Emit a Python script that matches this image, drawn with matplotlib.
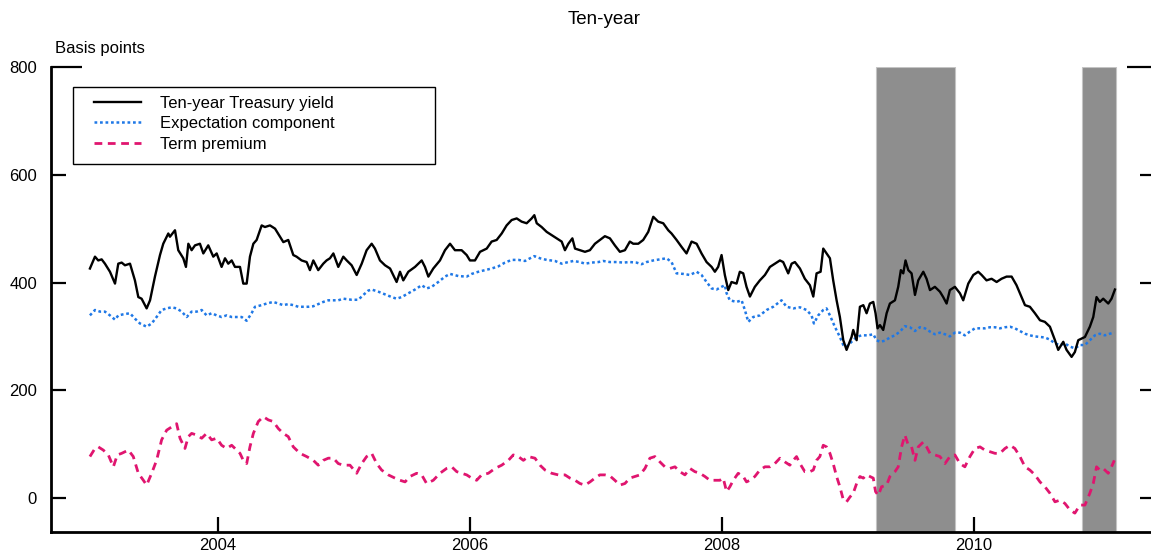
import numpy as np
import matplotlib

matplotlib.use("Agg")
import matplotlib.pyplot as plt
from matplotlib.patches import Rectangle


# Ten-year Treasury yield decomposition, basis points (date as decimal year, value)
TREASURY_YIELD = [
    (2002.984, 426), (2003.024, 448), (2003.050, 441), (2003.077, 443), (2003.103, 435),
    (2003.143, 420), (2003.183, 398), (2003.209, 435), (2003.236, 437), (2003.262, 432),
    (2003.302, 435), (2003.341, 404), (2003.368, 373), (2003.394, 370), (2003.434, 352),
    (2003.461, 367), (2003.500, 411), (2003.540, 451), (2003.566, 472), (2003.606, 491),
    (2003.619, 485), (2003.659, 497), (2003.685, 460), (2003.725, 445), (2003.746, 429),
    (2003.765, 472), (2003.791, 460), (2003.818, 469), (2003.857, 472), (2003.884, 454),
    (2003.923, 469), (2003.963, 448), (2003.990, 454), (2004.029, 429), (2004.056, 445),
    (2004.082, 435), (2004.109, 441), (2004.135, 429), (2004.175, 429), (2004.201, 398),
    (2004.228, 398), (2004.254, 448), (2004.281, 472), (2004.307, 479), (2004.347, 506),
    (2004.373, 503), (2004.413, 506), (2004.453, 500), (2004.492, 485), (2004.519, 475),
    (2004.558, 479), (2004.598, 451), (2004.624, 448), (2004.664, 441), (2004.704, 438),
    (2004.730, 423), (2004.757, 441), (2004.796, 423), (2004.836, 435), (2004.862, 441),
    (2004.889, 445), (2004.916, 454), (2004.955, 429), (2004.995, 448), (2005.022, 441),
    (2005.061, 432), (2005.101, 414), (2005.141, 435), (2005.180, 460), (2005.220, 472),
    (2005.246, 463), (2005.286, 441), (2005.326, 432), (2005.366, 426), (2005.418, 401),
    (2005.445, 420), (2005.471, 404), (2005.511, 420), (2005.564, 429), (2005.617, 441),
    (2005.643, 429), (2005.670, 411), (2005.709, 426), (2005.762, 441), (2005.802, 460),
    (2005.842, 472), (2005.881, 460), (2005.934, 460), (2005.974, 451), (2006.000, 441),
    (2006.040, 441), (2006.080, 457), (2006.133, 463), (2006.172, 476), (2006.212, 479),
    (2006.252, 491), (2006.291, 506), (2006.331, 516), (2006.371, 519), (2006.410, 513),
    (2006.450, 510), (2006.490, 519), (2006.511, 525), (2006.530, 510), (2006.569, 503),
    (2006.609, 494), (2006.649, 488), (2006.688, 482), (2006.728, 476), (2006.754, 460),
    (2006.781, 472), (2006.813, 482), (2006.834, 463), (2006.873, 460), (2006.913, 457),
    (2006.952, 460), (2006.992, 472), (2007.031, 479), (2007.071, 486), (2007.111, 482),
    (2007.150, 469), (2007.190, 457), (2007.230, 460), (2007.269, 476), (2007.296, 472),
    (2007.336, 472), (2007.375, 479), (2007.415, 494), (2007.455, 522), (2007.494, 513),
    (2007.534, 510), (2007.574, 497), (2007.600, 491), (2007.640, 479), (2007.680, 466),
    (2007.719, 454), (2007.759, 476), (2007.799, 472), (2007.838, 454), (2007.878, 438),
    (2007.918, 429), (2007.944, 420), (2007.970, 429), (2007.997, 451), (2008.023, 414),
    (2008.050, 386), (2008.076, 401), (2008.116, 398), (2008.142, 420), (2008.169, 417),
    (2008.195, 392), (2008.222, 374), (2008.261, 392), (2008.301, 404), (2008.341, 414),
    (2008.381, 429), (2008.420, 435), (2008.460, 441), (2008.486, 438), (2008.526, 417),
    (2008.553, 435), (2008.579, 438), (2008.619, 426), (2008.658, 407), (2008.698, 395),
    (2008.725, 374), (2008.751, 417), (2008.783, 420), (2008.804, 463), (2008.830, 454),
    (2008.857, 445), (2008.883, 404), (2008.910, 367), (2008.936, 336), (2008.963, 293),
    (2008.989, 275), (2009.029, 299), (2009.042, 312), (2009.069, 293), (2009.095, 355),
    (2009.122, 358), (2009.148, 343), (2009.174, 361), (2009.201, 364), (2009.219, 343),
    (2009.235, 315), (2009.254, 321), (2009.280, 312), (2009.307, 343), (2009.333, 361),
    (2009.373, 367), (2009.399, 392), (2009.420, 423), (2009.439, 417), (2009.457, 441),
    (2009.479, 423), (2009.505, 417), (2009.532, 377), (2009.558, 404), (2009.598, 420),
    (2009.624, 407), (2009.651, 386), (2009.690, 392), (2009.730, 383), (2009.756, 373),
    (2009.783, 361), (2009.809, 386), (2009.849, 392), (2009.889, 380), (2009.915, 367),
    (2009.955, 398), (2009.995, 414), (2010.034, 420), (2010.061, 414), (2010.100, 404),
    (2010.140, 407), (2010.180, 401), (2010.219, 407), (2010.259, 411), (2010.299, 411),
    (2010.338, 395), (2010.378, 373), (2010.405, 358), (2010.444, 355), (2010.484, 343),
    (2010.524, 330), (2010.563, 327), (2010.603, 318), (2010.643, 293), (2010.669, 275),
    (2010.709, 290), (2010.735, 275), (2010.775, 262), (2010.801, 271), (2010.828, 293),
    (2010.854, 296), (2010.881, 299), (2010.920, 318), (2010.947, 336), (2010.973, 373),
    (2010.999, 364), (2011.026, 370), (2011.066, 361), (2011.092, 370), (2011.119, 387),
]

EXPECTATION = [
    (2002.984, 339), (2003.024, 349), (2003.064, 346), (2003.103, 346), (2003.143, 339),
    (2003.183, 331), (2003.209, 339), (2003.249, 341), (2003.302, 343), (2003.341, 333),
    (2003.381, 324), (2003.434, 318), (2003.474, 324), (2003.513, 336), (2003.553, 349),
    (2003.593, 352), (2003.632, 354), (2003.672, 352), (2003.712, 346), (2003.752, 336),
    (2003.791, 346), (2003.831, 346), (2003.871, 349), (2003.910, 339), (2003.950, 343),
    (2003.990, 339), (2004.029, 336), (2004.069, 339), (2004.109, 336), (2004.148, 336),
    (2004.188, 336), (2004.228, 329), (2004.267, 343), (2004.294, 355), (2004.347, 358),
    (2004.386, 361), (2004.439, 364), (2004.479, 361), (2004.519, 358), (2004.558, 360),
    (2004.598, 358), (2004.638, 355), (2004.677, 355), (2004.717, 355), (2004.757, 356),
    (2004.796, 360), (2004.836, 364), (2004.876, 367), (2004.916, 367), (2004.955, 367),
    (2004.995, 370), (2005.061, 368), (2005.114, 368), (2005.154, 377), (2005.193, 385),
    (2005.220, 387), (2005.273, 383), (2005.326, 378), (2005.379, 373), (2005.418, 370),
    (2005.458, 373), (2005.511, 380), (2005.564, 387), (2005.617, 395), (2005.656, 389),
    (2005.696, 392), (2005.749, 401), (2005.802, 411), (2005.842, 416), (2005.908, 412),
    (2005.974, 411), (2006.014, 416), (2006.067, 420), (2006.119, 423), (2006.172, 426),
    (2006.225, 430), (2006.278, 437), (2006.331, 442), (2006.384, 442), (2006.437, 440),
    (2006.477, 445), (2006.511, 449), (2006.556, 445), (2006.609, 442), (2006.675, 440),
    (2006.728, 435), (2006.781, 438), (2006.821, 440), (2006.873, 438), (2006.913, 435),
    (2006.966, 437), (2007.019, 438), (2007.058, 440), (2007.111, 438), (2007.164, 438),
    (2007.217, 437), (2007.269, 438), (2007.322, 437), (2007.362, 434), (2007.402, 438),
    (2007.455, 441), (2007.508, 443), (2007.560, 445), (2007.600, 438), (2007.640, 417),
    (2007.693, 416), (2007.746, 414), (2007.799, 420), (2007.838, 414), (2007.878, 401),
    (2007.918, 389), (2007.957, 387), (2007.997, 392), (2008.023, 395), (2008.037, 380),
    (2008.063, 367), (2008.116, 364), (2008.156, 367), (2008.182, 349), (2008.209, 327),
    (2008.248, 336), (2008.301, 339), (2008.354, 349), (2008.407, 355), (2008.473, 367),
    (2008.513, 355), (2008.566, 352), (2008.619, 354), (2008.672, 349), (2008.711, 339),
    (2008.730, 324), (2008.764, 339), (2008.804, 349), (2008.830, 352), (2008.857, 339),
    (2008.896, 318), (2008.936, 299), (2008.963, 284), (2008.989, 281), (2009.029, 290),
    (2009.069, 299), (2009.108, 302), (2009.161, 302), (2009.201, 304), (2009.227, 293),
    (2009.254, 290), (2009.293, 292), (2009.333, 298), (2009.373, 302), (2009.413, 309),
    (2009.452, 319), (2009.492, 317), (2009.532, 310), (2009.571, 317), (2009.611, 315),
    (2009.651, 309), (2009.690, 304), (2009.730, 307), (2009.770, 304), (2009.809, 300),
    (2009.849, 307), (2009.889, 307), (2009.928, 302), (2009.968, 309), (2010.008, 315),
    (2010.048, 315), (2010.087, 315), (2010.127, 317), (2010.167, 317), (2010.206, 315),
    (2010.246, 317), (2010.286, 318), (2010.325, 315), (2010.365, 310), (2010.405, 305),
    (2010.444, 302), (2010.484, 300), (2010.524, 299), (2010.563, 298), (2010.603, 294),
    (2010.643, 287), (2010.682, 284), (2010.722, 287), (2010.762, 281), (2010.801, 278),
    (2010.841, 284), (2010.881, 284), (2010.920, 293), (2010.960, 302), (2010.999, 305),
    (2011.039, 302), (2011.079, 305), (2011.114, 307),
]

TERM_PREMIUM = [
    (2002.984, 77), (2003.024, 92), (2003.050, 95), (2003.090, 89), (2003.130, 80),
    (2003.170, 58), (2003.201, 80), (2003.236, 83), (2003.289, 89), (2003.328, 77),
    (2003.368, 46), (2003.408, 33), (2003.434, 24), (2003.474, 46), (2003.513, 70),
    (2003.553, 108), (2003.593, 126), (2003.632, 132), (2003.672, 138), (2003.699, 111),
    (2003.738, 92), (2003.765, 114), (2003.791, 120), (2003.831, 117), (2003.871, 111),
    (2003.910, 120), (2003.950, 108), (2003.990, 111), (2004.029, 98), (2004.069, 92),
    (2004.109, 98), (2004.148, 89), (2004.175, 83), (2004.201, 70), (2004.228, 64),
    (2004.254, 95), (2004.281, 120), (2004.320, 142), (2004.360, 151), (2004.400, 145),
    (2004.439, 142), (2004.479, 129), (2004.519, 120), (2004.558, 114), (2004.598, 95),
    (2004.651, 83), (2004.704, 77), (2004.757, 70), (2004.796, 61), (2004.836, 70),
    (2004.876, 74), (2004.916, 74), (2004.955, 64), (2004.995, 61), (2005.048, 61),
    (2005.101, 46), (2005.141, 64), (2005.180, 77), (2005.220, 83), (2005.260, 64),
    (2005.299, 52), (2005.352, 43), (2005.405, 37), (2005.445, 33), (2005.485, 30),
    (2005.524, 40), (2005.577, 46), (2005.617, 43), (2005.656, 27), (2005.709, 33),
    (2005.762, 46), (2005.815, 55), (2005.855, 58), (2005.895, 49), (2005.934, 46),
    (2005.974, 43), (2006.014, 37), (2006.053, 33), (2006.093, 43), (2006.146, 46),
    (2006.199, 55), (2006.252, 61), (2006.305, 70), (2006.344, 80), (2006.384, 77),
    (2006.424, 70), (2006.463, 77), (2006.516, 74), (2006.556, 61), (2006.596, 52),
    (2006.649, 46), (2006.701, 43), (2006.754, 43), (2006.794, 37), (2006.834, 33),
    (2006.873, 27), (2006.913, 24), (2006.953, 30), (2006.992, 37), (2007.031, 43),
    (2007.071, 43), (2007.111, 41), (2007.150, 33), (2007.190, 24), (2007.230, 27),
    (2007.269, 37), (2007.309, 40), (2007.349, 43), (2007.389, 55), (2007.428, 74),
    (2007.468, 77), (2007.508, 67), (2007.547, 58), (2007.587, 55), (2007.627, 58),
    (2007.666, 49), (2007.706, 43), (2007.746, 55), (2007.785, 49), (2007.825, 46),
    (2007.865, 40), (2007.904, 33), (2007.944, 33), (2007.984, 33), (2008.010, 37),
    (2008.037, 12), (2008.063, 21), (2008.090, 33), (2008.129, 46), (2008.169, 40),
    (2008.195, 30), (2008.222, 33), (2008.261, 40), (2008.301, 52), (2008.341, 58),
    (2008.381, 58), (2008.420, 64), (2008.460, 74), (2008.500, 67), (2008.539, 61),
    (2008.566, 70), (2008.592, 77), (2008.619, 64), (2008.658, 49), (2008.698, 49),
    (2008.725, 52), (2008.751, 70), (2008.777, 77), (2008.804, 98), (2008.830, 95),
    (2008.857, 83), (2008.883, 64), (2008.910, 40), (2008.936, 21), (2008.963, -3),
    (2008.989, -7), (2009.016, 2), (2009.042, 9), (2009.069, 27), (2009.095, 40),
    (2009.122, 37), (2009.148, 43), (2009.174, 40), (2009.201, 37), (2009.219, 12),
    (2009.241, 5), (2009.267, 21), (2009.307, 24), (2009.333, 40), (2009.373, 49),
    (2009.399, 58), (2009.426, 95), (2009.452, 117), (2009.479, 98), (2009.505, 95),
    (2009.532, 70), (2009.558, 95), (2009.598, 104), (2009.624, 95), (2009.651, 83),
    (2009.690, 80), (2009.730, 77), (2009.770, 64), (2009.809, 77), (2009.849, 80),
    (2009.889, 64), (2009.928, 58), (2009.968, 77), (2010.008, 92), (2010.048, 95),
    (2010.087, 89), (2010.127, 86), (2010.167, 83), (2010.206, 83), (2010.246, 92),
    (2010.286, 98), (2010.325, 92), (2010.365, 77), (2010.405, 58), (2010.444, 52),
    (2010.484, 43), (2010.524, 30), (2010.563, 21), (2010.603, 9), (2010.643, -7),
    (2010.682, -4), (2010.722, -10), (2010.762, -22), (2010.801, -28), (2010.841, -13),
    (2010.881, -13), (2010.920, 9), (2010.947, 27), (2010.973, 58), (2010.999, 52),
    (2011.026, 55), (2011.066, 46), (2011.092, 58), (2011.114, 70),
]

# shaded periods (decimal years)
SHADE_START = [2009.22, 2010.855]
SHADE_END = [2009.85, 2011.13]

Y_TICKS = [0, 200, 400, 600, 800]
X_TICKS = [2004, 2006, 2008, 2010]

W, H = 1151, 551


def split(series):
    arr = np.array(series, dtype=float)
    return arr[:, 0], arr[:, 1]


def main():
    plt.rcParams["font.family"] = ["Liberation Sans", "DejaVu Sans"]
    plt.rcParams["font.size"] = 12

    fig = plt.figure(figsize=(W / 100, H / 100), dpi=100)
    left, right = 51 / W, 1155 / W
    bottom, top = 1 - 532 / H, 1 - 67 / H
    ax = fig.add_axes([left, bottom, right - left, top - bottom])

    for start, end in zip(SHADE_START, SHADE_END):
        ax.axvspan(start, end, facecolor="#8e8e8e", edgecolor="#c4c4c4",
                   linewidth=0.8, zorder=1)

    x, y = split(TREASURY_YIELD)
    ax.plot(x, y, color="black", linewidth=1.7, zorder=4,
            label="Ten-year Treasury yield")
    x, y = split(EXPECTATION)
    ax.plot(x, y, color="#1f78e6", linewidth=1.8, linestyle=(0, (1.1, 1.1)),
            zorder=3, label="Expectation component")
    x, y = split(TERM_PREMIUM)
    ax.plot(x, y, color="#e0156f", linewidth=2.0, linestyle=(0, (2.8, 2.0)),
            zorder=3, label="Term premium")

    ax.set_xlim(2002.675, 2011.437)
    ax.set_ylim(-63, 800)
    ax.set_xticks(X_TICKS)
    ax.set_xticklabels([str(t) for t in X_TICKS])
    ax.set_yticks(Y_TICKS)
    ax.set_yticklabels([str(t) for t in Y_TICKS])

    for side in ("top", "right"):
        ax.spines[side].set_visible(False)
    for side in ("left", "bottom"):
        ax.spines[side].set_linewidth(2.0)

    ax.tick_params(axis="x", direction="in", length=11, width=1.6, pad=4,
                   labelsize=12)
    ax.tick_params(axis="y", direction="in", length=11, width=1.6, pad=10,
                   labelsize=12, left=True, right=True)
    # the 800 tick runs longer on both sides
    top_tick = ax.yaxis.get_major_ticks()[-1]
    top_tick.tick1line.set_markersize(22)
    top_tick.tick2line.set_markersize(20)

    handles, labels = ax.get_legend_handles_labels()
    fig.legend(handles, labels, loc="upper left",
               bbox_to_anchor=(94 / W, 1 - 96 / H), frameon=False,
               borderpad=0, borderaxespad=0, handlelength=2.8,
               handletextpad=1.15, labelspacing=0.32, fontsize=12)
    fig.add_artist(Rectangle((73 / W, 1 - 164 / H), 362 / W, 77 / H,
                             transform=fig.transFigure, fill=False,
                             edgecolor="black", linewidth=1.0))

    fig.text(604 / W, 1 - 20 / H, "Ten-year", ha="center", va="center",
             fontsize=13.5)
    fig.text(55 / W, 1 - 48 / H, "Basis points", ha="left", va="center",
             fontsize=12)

    fig.savefig("out.png", dpi=100)
    plt.close(fig)


if __name__ == "__main__":
    main()
